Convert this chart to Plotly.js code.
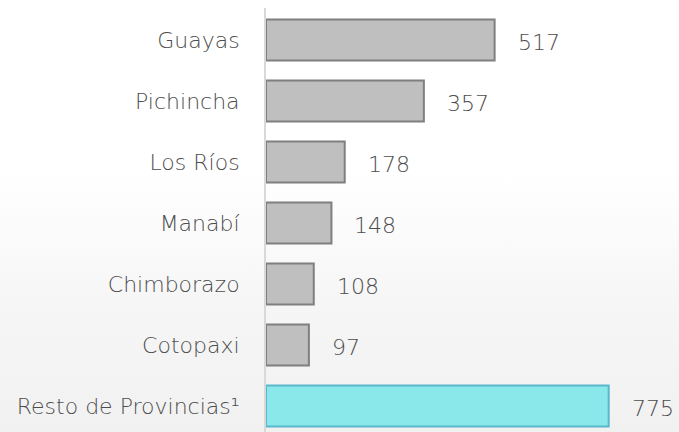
<!DOCTYPE html>
<html>
<head>
<meta charset="utf-8">
<script src="https://cdn.plot.ly/plotly-3.0.1.min.js"></script>
<style>
html,body{margin:0;padding:0;width:679px;height:432px;overflow:hidden;
background:linear-gradient(to bottom,#ffffff 0%,#ffffff 40%,#f6f6f6 70%,#f1f1f1 100%);}
#chart{width:679px;height:432px;}
</style>
</head>
<body>
<div id="chart"></div>
<script>
const categories = ["Guayas","Pichincha","Los Ríos","Manabí","Chimborazo","Cotopaxi","Resto de Provincias¹"];
const values = [517,357,178,148,108,97,775];
const fillColors = ["#bfbfbf","#bfbfbf","#bfbfbf","#bfbfbf","#bfbfbf","#bfbfbf","#8ae8ea"];
const lineColors = ["#7f7f7f","#7f7f7f","#7f7f7f","#7f7f7f","#7f7f7f","#7f7f7f","#5ab6cc"];

const FONT = "'DejaVu Sans', sans-serif";
const TXT = "#4d4d4d";

const trace = {
  type: "bar",
  orientation: "h",
  x: values,
  y: categories,
  width: 0.67,
  marker: {color: fillColors, line: {color: lineColors, width: 2}},
  hoverinfo: "none"
};

const annotations = values.map((v, i) => ({
  x: v, y: categories[i], xref: "x", yref: "y",
  text: String(v), showarrow: false,
  xanchor: "left", yanchor: "middle",
  xshift: 21, yshift: -2,
  font: {family: FONT, weight: 200, size: 22, color: TXT}
}));

const layout = {
  width: 679, height: 432,
  margin: {l: 266, r: 0, t: 8, b: 0},
  paper_bgcolor: "rgba(0,0,0,0)",
  plot_bgcolor: "rgba(0,0,0,0)",
  showlegend: false,
  xaxis: {range: [0, 934], visible: false, fixedrange: true},
  yaxis: {
    type: "category",
    categoryorder: "array", categoryarray: categories,
    range: [6.426, -0.525],
    showline: true, linecolor: "#d9d9d9", linewidth: 2,
    ticks: "outside", ticklen: 20, tickcolor: "rgba(0,0,0,0)",
    showgrid: false, zeroline: false,
    tickfont: {family: FONT, weight: 200, size: 22, color: TXT}
  },
  annotations: annotations
};

Plotly.newPlot("chart", [trace], layout, {staticPlot: true, displayModeBar: false});
</script>
</body>
</html>
